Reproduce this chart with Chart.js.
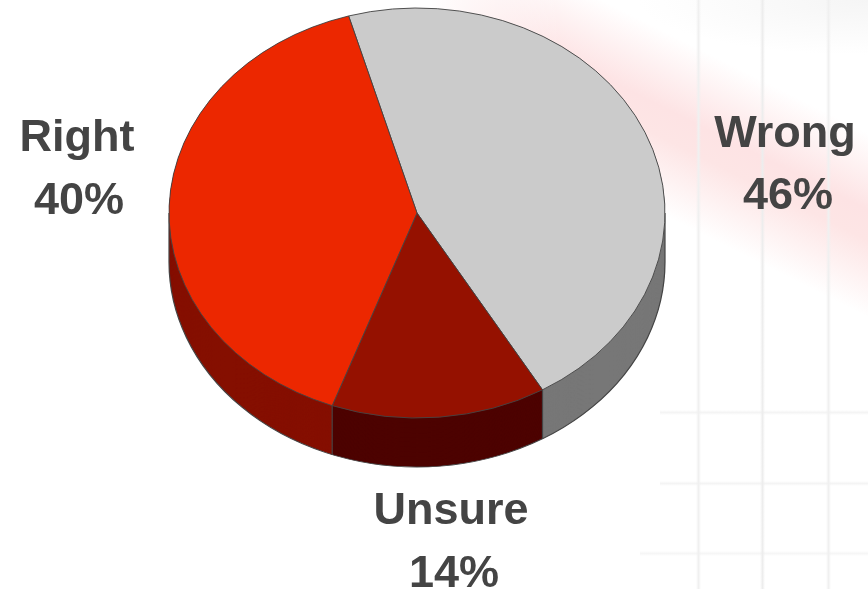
<!DOCTYPE html>
<html>
<head>
<meta charset="utf-8">
<style>
html, body { margin: 0; padding: 0; }
body {
    width: 868px;
    height: 589px;
    overflow: hidden;
    background-color: #fff;
    background-repeat: no-repeat;
    /* faint grid lines, grey haze at the top and the pink band behind the chart */
    background-image:
        linear-gradient(90deg, rgba(238,238,238,0), #f0f0f0, rgba(238,238,238,0)),
        linear-gradient(90deg, rgba(238,238,238,0), #ededed, rgba(238,238,238,0)),
        linear-gradient(90deg, rgba(238,238,238,0), #f0f0f0, rgba(238,238,238,0)),
        linear-gradient(rgba(240,240,240,0), #f4f4f4, rgba(240,240,240,0)),
        linear-gradient(rgba(240,240,240,0), #f4f4f4, rgba(240,240,240,0)),
        linear-gradient(rgba(240,240,240,0), #f6f6f6, rgba(240,240,240,0)),
        radial-gradient(ellipse 230px 55px at 100% 0, #f5f5f5, rgba(245,245,245,0)),
        linear-gradient(90deg, #fff 430px, rgba(255,255,255,0) 560px),
        linear-gradient(206.6deg, rgba(255,255,255,0) 13%, #fde3e4 20.5%, #fde5e5 23.5%, rgba(255,255,255,0) 31%);
    background-position: 696px 0, 760px 0, 826px 0, 660px 410px, 660px 481px, 640px 551px, 0 0, 0 0, 0 0;
    background-size: 5px 100%, 5px 100%, 5px 100%, 208px 5px, 208px 5px, 228px 5px, 100% 100%, 100% 100%, 100% 100%;
}
canvas { display: block; }
</style>
</head>
<body>
<canvas id="chart" width="868" height="589"></canvas>
<script src="https://cdn.jsdelivr.net/npm/chart.js@4"></script>
<script>
var categories = ['Wrong', 'Unsure', 'Right'];
var values = [46, 14, 40];

var topColors = ['#cbcbcb', '#951100', '#ec2700'];
var sideColors = ['#777777', '#4d0300', '#850f00'];
// x, y of the name, then x, y of the percentage
var labelSpots = [[785, 147, 788, 209], [451, 524, 454, 587], [77, 151, 79, 214]];

var squash = 205 / 248;
var depth = 49 / squash;
var edgeColor = '#444444';

function shifted(arc, color)
{
    // same arc, other fill, no outline
    var copy = Object.create(arc);
    copy.options = Object.create(arc.options, {
        backgroundColor: { value: color },
        borderWidth: { value: 0 }
    });
    return copy;
}

var tiltPlugin = {
    id: 'tilt',
    beforeDatasetsDraw: function(chart) {
        var ctx = chart.ctx;
        var arcs = chart.getDatasetMeta(0).data;
        var cx = arcs[0].x, cy = arcs[0].y, r = arcs[0].outerRadius;

        ctx.save();
        ctx.translate(cx, cy);
        ctx.scale(1, squash);
        ctx.translate(-cx, -cy);

        // side wall, deepest layer first
        for(var d = depth; d > 0; d -= 1)
        {
            ctx.save();
            ctx.translate(0, d);
            arcs.forEach(function(arc, i) {
                shifted(arc, sideColors[i]).draw(ctx);
            });
            ctx.restore();
        }

        // outline of the bottom rim
        ctx.strokeStyle = edgeColor;
        ctx.lineWidth = 1.2;
        ctx.beginPath();
        ctx.arc(cx, cy + depth, r, 0, Math.PI);
        ctx.stroke();

        // vertical edges on the front of the wall
        var angles = [0, Math.PI];
        arcs.forEach(function(arc) {
            if(Math.sin(arc.endAngle) > 0) angles.push(arc.endAngle);
        });
        angles.forEach(function(a) {
            var x = cx + r * Math.cos(a);
            var y = cy + r * Math.sin(a);
            ctx.beginPath();
            ctx.moveTo(x, y);
            ctx.lineTo(x, y + depth);
            ctx.stroke();
        });
    },
    afterDatasetsDraw: function(chart) {
        chart.ctx.restore();
    },
    afterDraw: function(chart) {
        var ctx = chart.ctx;
        ctx.save();
        ctx.fillStyle = '#444444';
        ctx.font = 'bold 45px "Liberation Sans"';
        ctx.textAlign = 'center';
        ctx.textBaseline = 'alphabetic';
        categories.forEach(function(name, i) {
            ctx.fillText(name, labelSpots[i][0], labelSpots[i][1]);
            ctx.fillText(values[i] + '%', labelSpots[i][2], labelSpots[i][3]);
        });
        ctx.restore();
    }
};

var chart = new Chart(document.getElementById('chart').getContext('2d'), {
    type: 'pie',
    data: {
        labels: categories,
        datasets: [{
            data: values,
            backgroundColor: topColors,
            borderColor: edgeColor,
            borderWidth: 1,
            clip: false
        }]
    },
    options: {
        responsive: false,
        animation: false,
        rotation: -16,
        radius: 248,
        layout: { padding: { right: 34, bottom: 163 } },
        plugins: {
            legend: { display: false },
            tooltip: { enabled: false }
        }
    },
    plugins: [tiltPlugin]
});
</script>
</body>
</html>
